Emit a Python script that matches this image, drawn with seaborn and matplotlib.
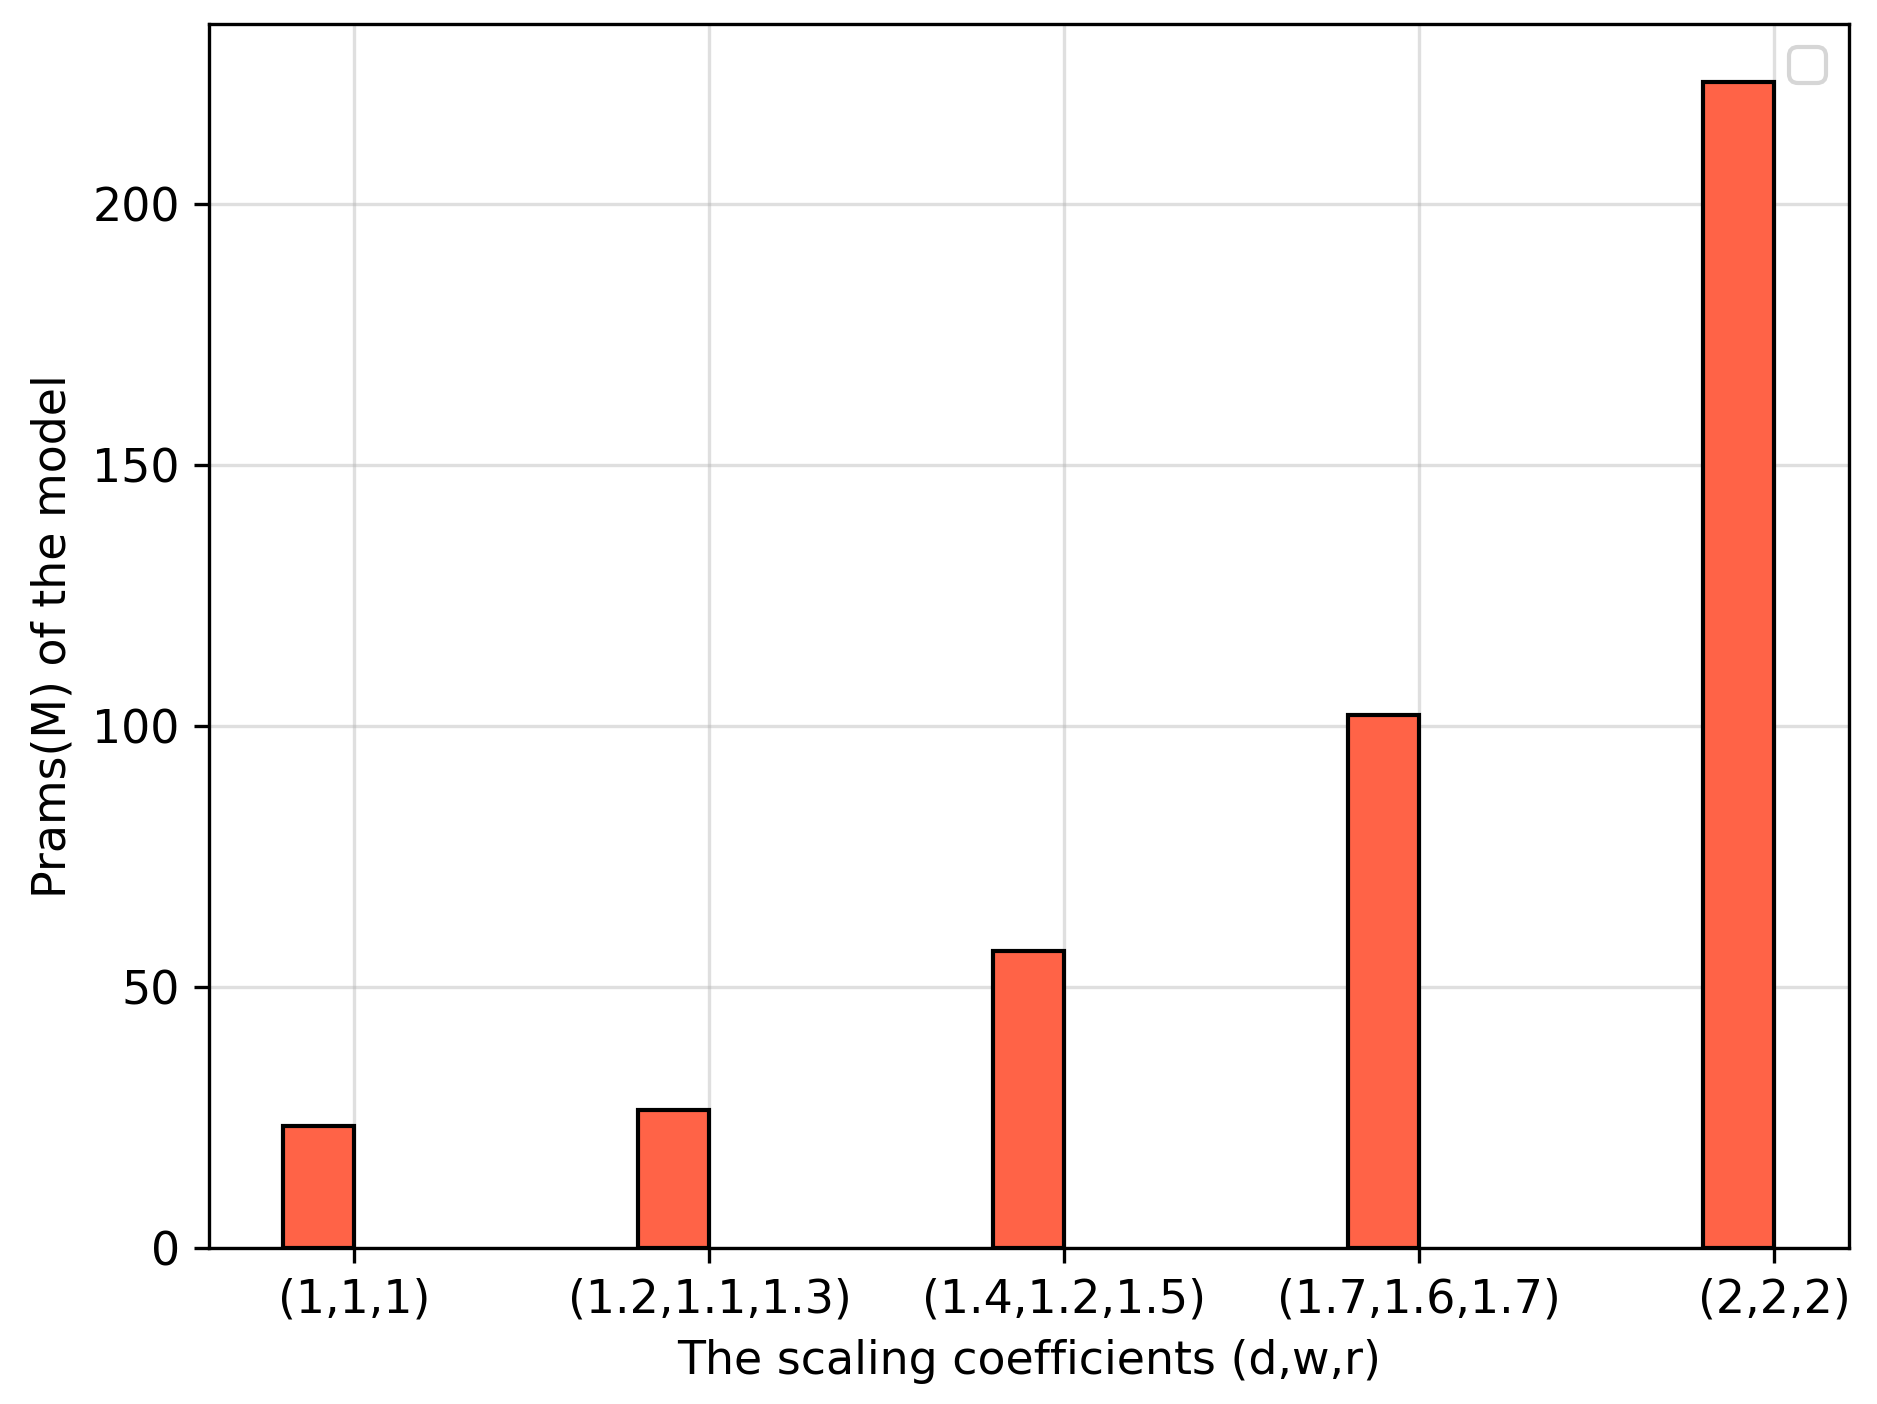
import numpy as np
import pandas as pd
import matplotlib
matplotlib.use("Agg")
import matplotlib.pyplot as plt
import seaborn as sns

# scaling coefficients (d,w,r) and model params in millions
coeff_labels = ["(1,1,1)", "(1.2,1.1,1.3)", "(1.4,1.2,1.5)", "(1.7,1.6,1.7)", "(2,2,2)"]
params_m = [23.4, 26.6, 56.9, 102.2, 223.4]

df = pd.DataFrame({"pos": np.arange(len(coeff_labels)), "params": params_m})

plt.rcParams["font.size"] = 11

fig = plt.figure(figsize=(1877 / 300, 1404 / 300), dpi=300)
ax = fig.add_axes([0.1113, 0.1108, 0.985 - 0.1113, 0.983 - 0.1108])

bar_w = 0.2
sns.barplot(data=df, x="pos", y="params", native_scale=True, width=bar_w,
            color="tomato", saturation=1, edgecolor="black", linewidth=1, ax=ax)

# bars sit to the left of each tick (like align='edge' with negative width)
for p in ax.patches:
    p.set_x(p.get_x() - bar_w / 2)
ax.relim()
ax.autoscale_view()
ax.margins(x=0.05, y=0.05)
ax.set_ylim(bottom=0)

ax.set_xticks(df["pos"])
ax.set_xticklabels(coeff_labels)
ax.set_xlabel("The scaling coefficients (d,w,r)")
ax.set_ylabel("Prams(M) of the model")
ax.grid(True, alpha=0.4)
ax.set_axisbelow(True)
ax.legend(loc="upper right")

plt.savefig("out.png", dpi=300)
plt.close()
